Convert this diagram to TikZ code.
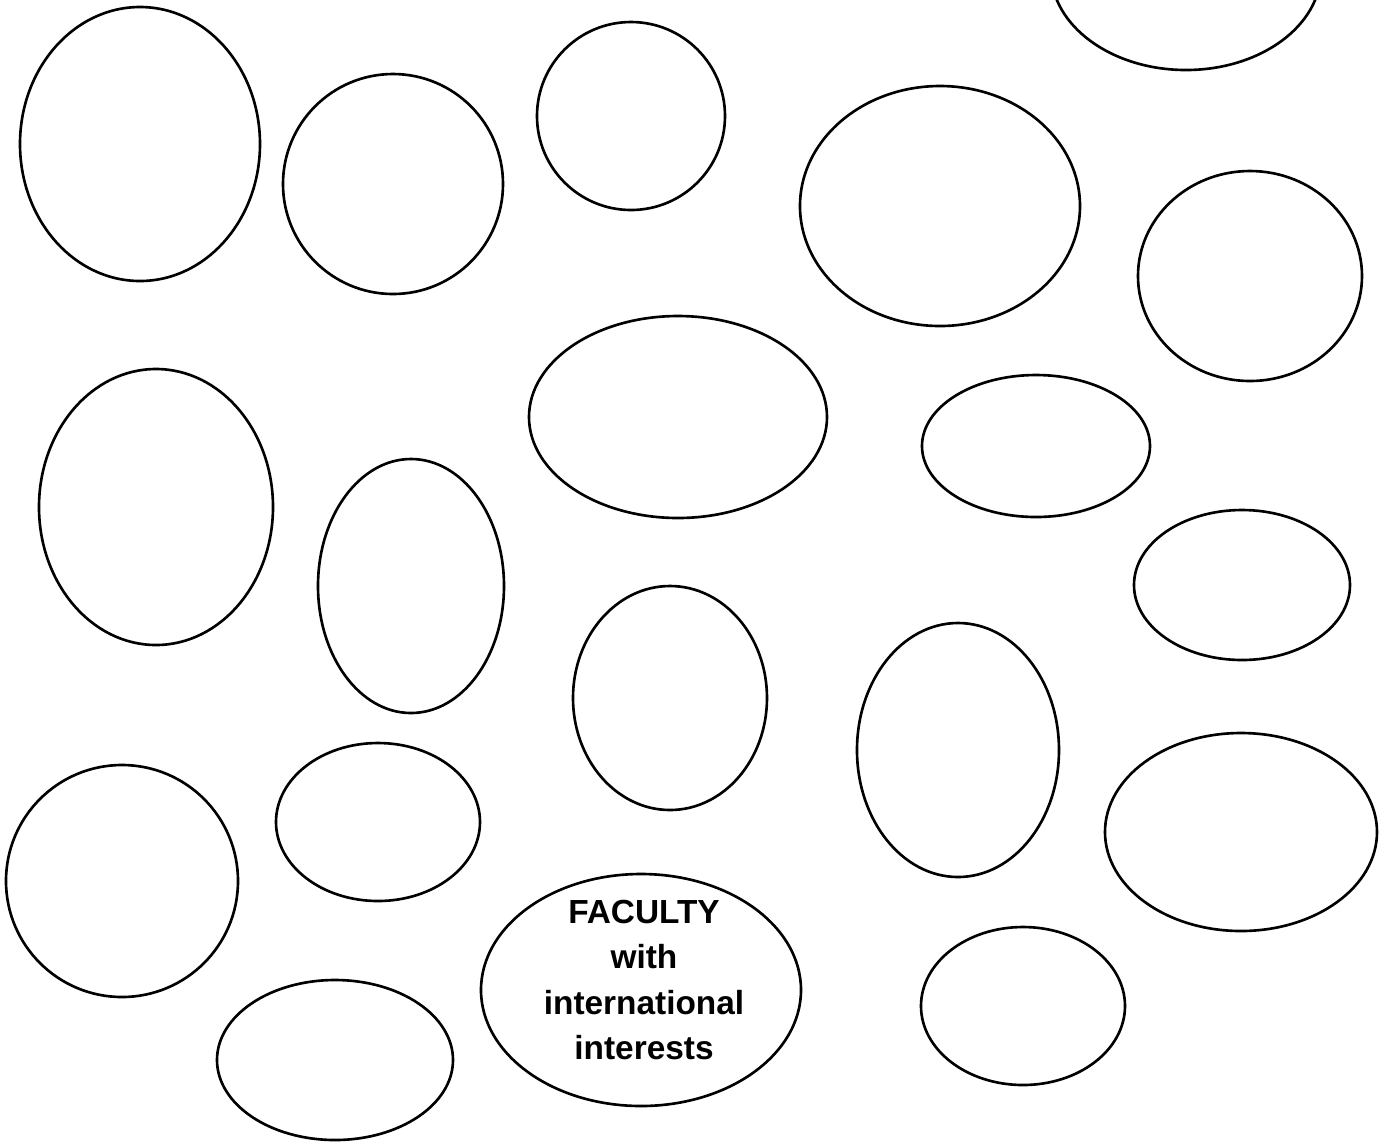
\documentclass[tikz,border=0pt]{standalone}
\usepackage{fontspec}
\setsansfont{Liberation Sans}
\begin{document}
\begin{tikzpicture}[blob/.style={line width=0.75pt},
  label/.style={font=\sffamily\bfseries\fontsize{9.5}{12.9}\selectfont, align=center}]
\useasboundingbox (0,0) rectangle (13.79,-11.42);

% top row
\draw[blob] (11.86,0.29) ellipse (1.35 and 0.99);
\draw[blob] (1.40,-1.44) ellipse (1.20 and 1.37);
\draw[blob] (3.93,-1.84) ellipse (1.10 and 1.10);
\draw[blob] (6.31,-1.16) ellipse (0.94 and 0.94);
\draw[blob] (9.40,-2.06) ellipse (1.40 and 1.20);
\draw[blob] (12.50,-2.76) ellipse (1.12 and 1.05);

% middle
\draw[blob] (1.56,-5.07) ellipse (1.17 and 1.38);
\draw[blob] (6.78,-4.17) ellipse (1.49 and 1.01);
\draw[blob] (10.36,-4.46) ellipse (1.14 and 0.71);
\draw[blob] (4.11,-5.86) ellipse (0.93 and 1.27);
\draw[blob] (12.42,-5.85) ellipse (1.08 and 0.75);
\draw[blob] (6.70,-6.98) ellipse (0.97 and 1.12);
\draw[blob] (9.58,-7.50) ellipse (1.01 and 1.27);

% bottom
\draw[blob] (1.22,-8.81) ellipse (1.16 and 1.16);
\draw[blob] (3.78,-8.22) ellipse (1.02 and 0.79);
\draw[blob] (12.41,-8.32) ellipse (1.36 and 0.99);
\draw[blob] (6.41,-9.90) ellipse (1.60 and 1.16);
\draw[blob] (10.23,-10.06) ellipse (1.02 and 0.79);
\draw[blob] (3.35,-10.60) ellipse (1.18 and 0.80);

\node[label] (faculty) at (6.44,-9.80) {FACULTY\\with\\international\\interests};
\end{tikzpicture}
\end{document}
